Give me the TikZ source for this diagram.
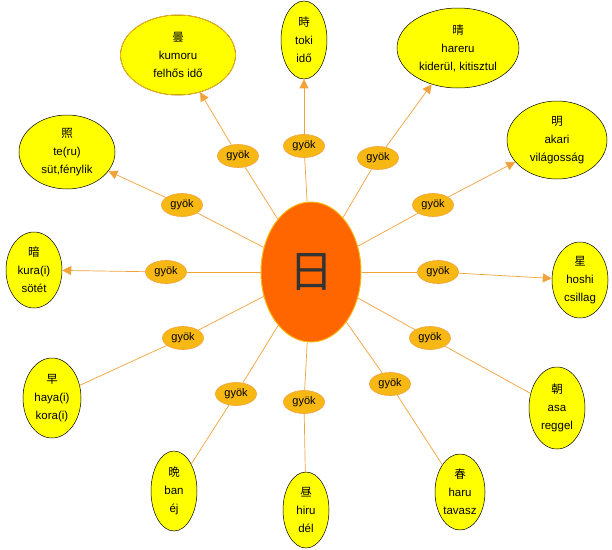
\documentclass[tikz,border=0pt]{standalone}
\usepackage{fontspec}
\setmainfont{Liberation Sans}
\newfontfamily\cjk{Noto Sans CJK JP}
\usetikzlibrary{shapes.geometric,arrows.meta}
\definecolor{napsarga}{HTML}{FFFF00}
\definecolor{gyoksarga}{HTML}{F7B814}
\definecolor{vonalnarancs}{HTML}{F3A23A}
\definecolor{kozepnarancs}{HTML}{FF6600}

\begin{document}
\begin{tikzpicture}[x=1pt,y=-1pt,
    olvasat/.style = {ellipse,draw=black,line width=0.5pt,fill=napsarga,inner sep=0pt,
                      align=center,font=\fontsize{11.5}{18}\selectfont},
    gyok/.style    = {ellipse,draw=vonalnarancs,line width=0.6pt,fill=gyoksarga,inner sep=0pt,
                      minimum width=41pt,minimum height=23pt,font=\fontsize{11}{12}\selectfont},
    ag/.style      = {draw=vonalnarancs,line width=0.7pt},
    nyil/.style    = {ag,-{Triangle[length=9pt,width=9pt]}},
  ]
  \useasboundingbox (0,0) rectangle (612,549);

  % Középső kandzsi
  \node[ellipse,draw=gyoksarga,line width=1pt,fill=kozepnarancs,
        minimum width=100pt,minimum height=140pt,inner sep=0pt,
        font=\cjk\fontsize{44}{44}\selectfont,text=black!80] (kozep) at (311,272) {日};

  % Olvasatok nyíllal (felső és oldalsó ágak)
  \foreach \nev/\kx/\ky/\w/\h/\gx/\gy/\txt in {
      kumoru/178/55/115/80/238/156/{{\cjk 曇}\\kumoru\\felhős idő},
      toki/304/40/46/78/304/146/{{\cjk 時}\\toki\\idő},
      hareru/458/48/122/80/378/158/{{\cjk 晴}\\hareru\\kiderül, kitisztul},
      akari/557/140/100/78/433/205/{{\cjk 明}\\akari\\világosság},
      teru/67/152/96/74/182/205/{{\cjk 照}\\te(ru)\\süt,fénylik},
      kurai/34/270/56/76/166/272/{{\cjk 暗}\\kura(i)\\sötét},
      hoshi/580/280/56/76/438/272/{{\cjk 星}\\hoshi\\csillag}}
  {
    \node[olvasat,minimum width=\w pt,minimum height=\h pt] (k\nev) at (\kx,\ky) {\txt};
    \node[gyok] (g\nev) at (\gx,\gy) {gyök};
    \draw[ag] (kozep) -- (g\nev);
    \draw[nyil] (g\nev) -- (k\nev);
  }

  % Olvasatok nyíl nélkül (alsó ágak)
  \foreach \nev/\kx/\ky/\w/\h/\gx/\gy/\txt in {
      hayai/52/398/58/80/183/338/{{\cjk 早}\\haya(i)\\kora(i)},
      asa/557/408/56/82/430/338/{{\cjk 朝}\\asa\\reggel},
      ban/174/491/46/80/236/394/{{\cjk 晩}\\ban\\éj},
      hiru/306/510/46/76/304/402/{{\cjk 昼}\\hiru\\dél},
      haru/460/492/50/76/390/384/{{\cjk 春}\\haru\\tavasz}}
  {
    \node[olvasat,minimum width=\w pt,minimum height=\h pt] (k\nev) at (\kx,\ky) {\txt};
    \node[gyok] (g\nev) at (\gx,\gy) {gyök};
    \draw[ag] (kozep) -- (g\nev);
    \draw[ag] (g\nev) -- (k\nev);
  }

  % A bal felső ellipszis kerete arany
  \draw[gyoksarga,line width=0.8pt] (kkumoru.center) ellipse (57.5pt and 40pt);

\end{tikzpicture}
\end{document}
